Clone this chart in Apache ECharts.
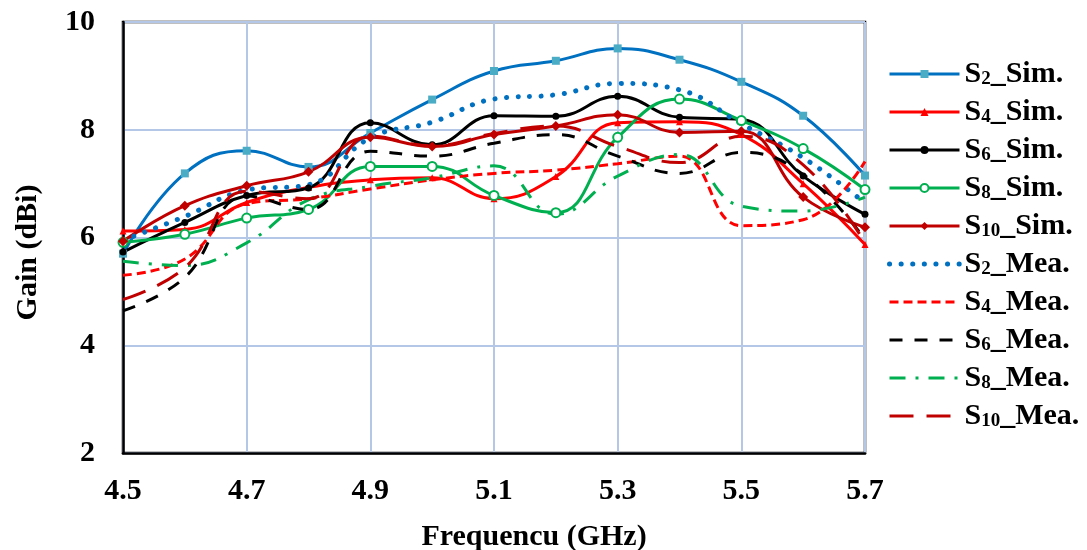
<!DOCTYPE html>
<html>
<head>
<meta charset="utf-8">
<script src="https://cdn.jsdelivr.net/npm/echarts@6/dist/echarts.min.js"></script>
<style>html,body{margin:0;padding:0;background:#fff;overflow:hidden}#c{width:1087px;height:550px}</style>
</head>
<body>
<div id="c"></div>
<script>
const freq = [4.5, 4.6, 4.7, 4.8, 4.9, 5.0, 5.1, 5.2, 5.3, 5.4, 5.5, 5.6, 5.7];
const s2Sim  = [5.70, 7.19, 7.61, 7.31, 7.94, 8.56, 9.09, 9.28, 9.51, 9.30, 8.89, 8.26, 7.15];
const s4Sim  = [6.12, 6.15, 6.65, 6.93, 7.07, 7.11, 6.72, 7.13, 8.13, 8.15, 7.91, 7.00, 5.87];
const s6Sim  = [5.73, 6.28, 6.78, 6.92, 8.13, 7.72, 8.26, 8.25, 8.62, 8.23, 8.19, 7.14, 6.43];
const s8Sim  = [5.91, 6.06, 6.36, 6.52, 7.32, 7.32, 6.78, 6.46, 7.86, 8.57, 8.17, 7.65, 6.89];
const s10Sim = [5.93, 6.59, 6.96, 7.22, 7.86, 7.69, 7.91, 8.07, 8.28, 7.95, 7.97, 6.75, 6.19];
const s2Mea  = [5.95, 6.39, 6.88, 6.98, 7.85, 8.14, 8.57, 8.65, 8.86, 8.74, 8.11, 7.48, 6.64];
const s4Mea  = [5.30, 5.60, 6.63, 6.72, 6.90, 7.07, 7.19, 7.25, 7.37, 7.51, 6.22, 6.33, 7.41];
const s6Mea  = [4.64, 5.26, 6.77, 6.52, 7.60, 7.51, 7.75, 7.91, 7.51, 7.19, 7.58, 7.17, 5.96];
const s8Mea  = [5.56, 5.48, 5.90, 6.70, 6.95, 7.11, 7.33, 6.43, 7.14, 7.54, 6.58, 6.49, 6.75];
const s10Mea = [4.85, 5.44, 6.86, 6.72, 7.88, 7.70, 7.93, 8.07, 7.69, 7.39, 7.88, 7.35, 5.90];

const yTicks = { min: 2, max: 10, interval: 2 };
const xTicks = { min: 4.5, max: 5.7, interval: 0.2 };

const FONT = '"Liberation Serif", "Times New Roman", serif';
const pts = arr => freq.map((f, i) => [f, arr[i]]);

function mk(name, arr, color, opts) {
  return Object.assign({
    name: name,
    type: 'line',
    data: pts(arr),
    smooth: 0.45,
    showSymbol: true,
    symbol: 'none',
    lineStyle: { color: color, width: 3 },
    itemStyle: { color: color },
    z: 2
  }, opts || {});
}

const series = [
  mk('S2_Sim.', s2Sim, '#0070C0', { symbol: 'rect', symbolSize: 8, itemStyle: { color: '#4BACC6' } }),
  mk('S4_Sim.', s4Sim, '#FF0000', { symbol: 'triangle', symbolSize: 7 }),
  mk('S6_Sim.', s6Sim, '#000000', { symbol: 'circle', symbolSize: 7 }),
  mk('S8_Sim.', s8Sim, '#00B050', { symbol: 'emptyCircle', symbolSize: 9, itemStyle: { color: '#00B050', borderColor: '#00B050', borderWidth: 1.5 } }),
  mk('S10_Sim.', s10Sim, '#C00000', { symbol: 'diamond', symbolSize: 10 }),
  mk('S2_Mea.', s2Mea, '#0070C0', { lineStyle: { color: '#0070C0', width: 5, type: [0.1, 11.5], cap: 'round' } }),
  mk('S4_Mea.', s4Mea, '#FF0000', { lineStyle: { color: '#FF0000', width: 3, type: [9, 5] } }),
  mk('S6_Mea.', s6Mea, '#000000', { lineStyle: { color: '#000000', width: 3, type: [13, 12] } }),
  mk('S8_Mea.', s8Mea, '#00B050', { lineStyle: { color: '#00B050', width: 3, type: [16, 10, 3, 10] } }),
  mk('S10_Mea.', s10Mea, '#C00000', { lineStyle: { color: '#C00000', width: 3, type: [24, 13] } })
];

const legendData = series.map(s => s.symbol === 'none'
  ? { name: s.name, itemStyle: { opacity: 0 }, lineStyle: { width: s.lineStyle.width } }
  : { name: s.name, lineStyle: { width: 3 } });

const chart = echarts.init(document.getElementById('c'), null, { renderer: 'canvas' });
chart.setOption({
  animation: false,
  backgroundColor: '#ffffff',
  grid: {
    left: 123, top: 22, right: 222, bottom: 97,
    containLabel: false,
    outerBoundsMode: 'none',
    show: true, borderColor: '#000', borderWidth: 2.5, backgroundColor: 'transparent'
  },
  xAxis: {
    type: 'value',
    min: xTicks.min, max: xTicks.max, interval: xTicks.interval,
    name: 'Frequencu (GHz)',
    nameLocation: 'middle',
    nameGap: 69,
    nameTextStyle: { fontFamily: FONT, fontWeight: 'bold', fontSize: 30, color: '#000', padding: [0, 0, 0, 80] },
    axisLine: { show: true, lineStyle: { color: '#000', width: 2.5 } },
    axisTick: { show: false },
    axisLabel: { margin: 23, fontFamily: FONT, fontWeight: 'bold', fontSize: 30, color: '#000',
      formatter: v => v.toFixed(1) },
    splitLine: { show: true, lineStyle: { color: '#B4C7E7', width: 2 } }
  },
  yAxis: {
    type: 'value',
    min: yTicks.min, max: yTicks.max, interval: yTicks.interval,
    name: 'Gain (dBi)',
    nameLocation: 'middle',
    nameGap: 80,
    nameRotate: 90,
    nameTextStyle: { fontFamily: FONT, fontWeight: 'bold', fontSize: 30, color: '#000', padding: [0, 30, 0, 0] },
    axisLine: { show: true, lineStyle: { color: '#000', width: 2.5 } },
    axisTick: { show: false },
    axisLabel: { margin: 28, fontFamily: FONT, fontWeight: 'bold', fontSize: 30, color: '#000' },
    splitLine: { show: true, lineStyle: { color: '#B4C7E7', width: 2 } }
  },
  legend: {
    orient: 'vertical',
    left: 882, top: 54,
    itemWidth: 70, itemHeight: 10, itemGap: 8,
    textStyle: {
      fontFamily: FONT, fontWeight: 'bold', fontSize: 30, color: '#000',
      rich: {
        m: { fontFamily: FONT, fontWeight: 'bold', fontSize: 30, color: '#000', lineHeight: 30, verticalAlign: 'bottom' },
        s: { fontFamily: FONT, fontWeight: 'bold', fontSize: 19, color: '#000', lineHeight: 14, verticalAlign: 'bottom' }
      }
    },
    formatter: function (name) {
      const m = name.match(/^S(\d+)(_.*)$/);
      return '{m|S}{s|' + m[1] + '}{m|' + m[2] + '}';
    },
    data: legendData
  },
  series: series
});
</script>
</body>
</html>
